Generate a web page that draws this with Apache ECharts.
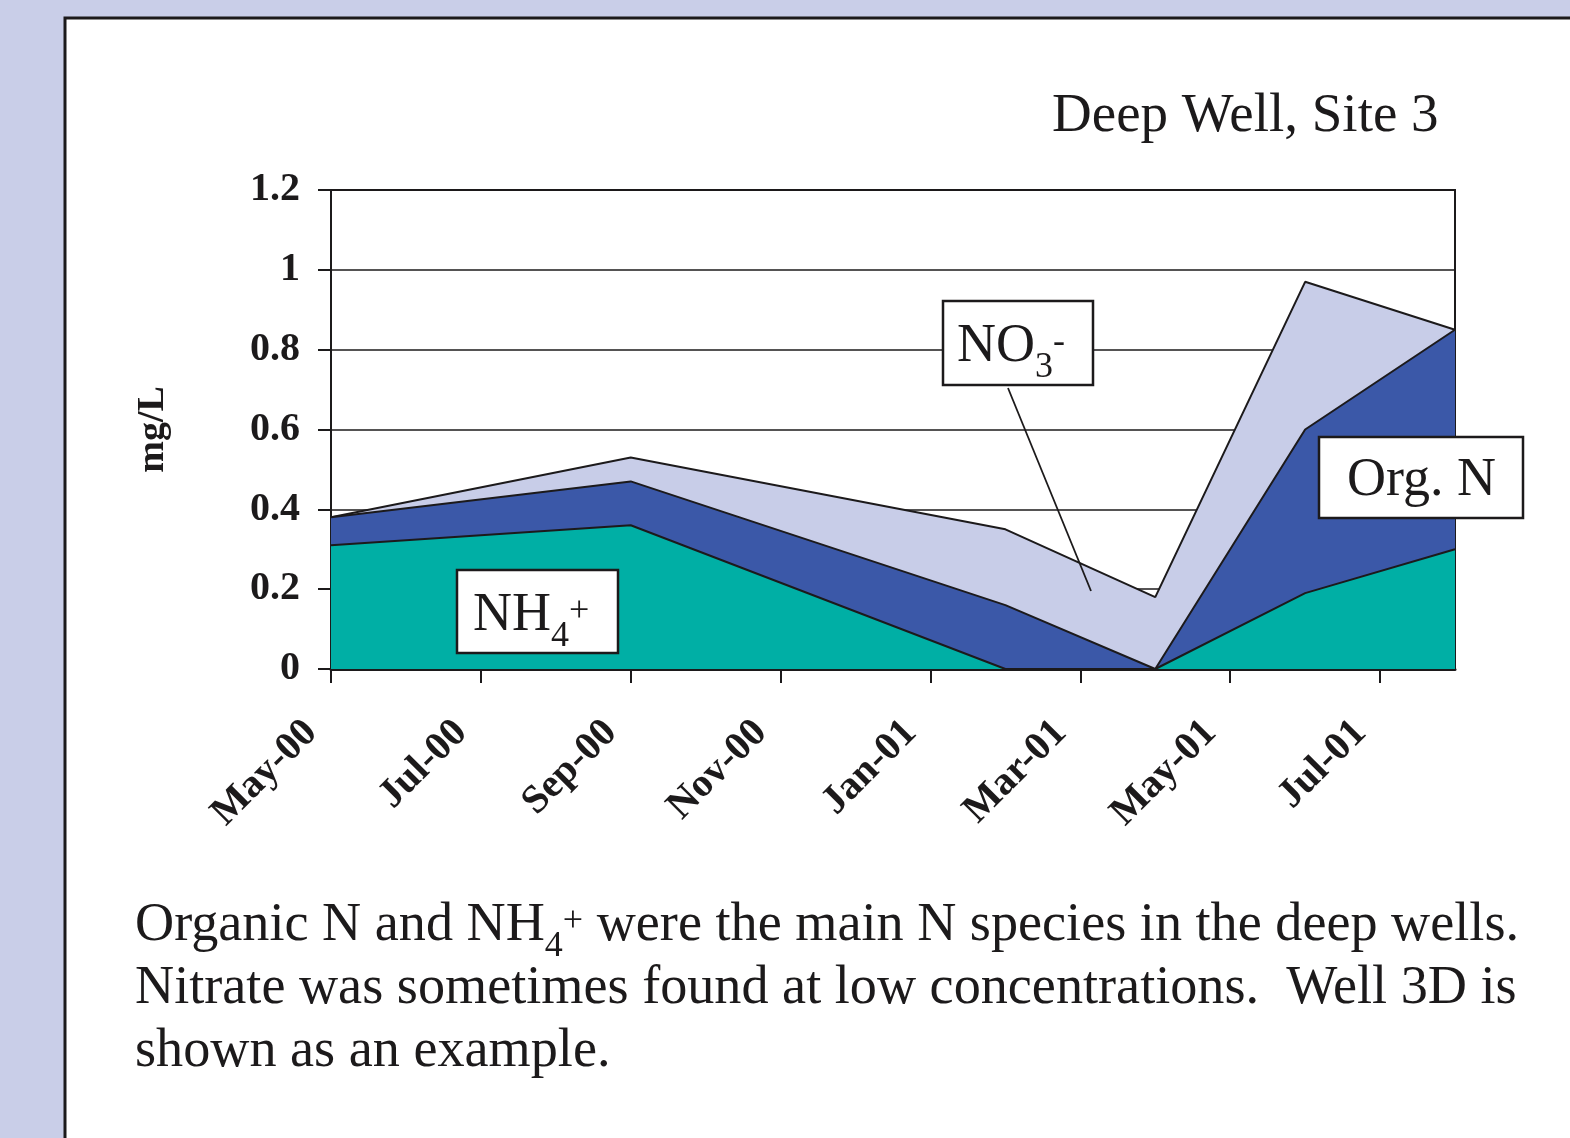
<!DOCTYPE html>
<html><head><meta charset="utf-8">
<script src="https://cdn.jsdelivr.net/npm/echarts@6/dist/echarts.min.js"></script>
<style>html,body{margin:0;padding:0;background:#C9CEE8;} #c{width:1570px;height:1138px;}</style>
</head><body><div id="c"></div>
<script>
// ---- data ----
const sampleMonths = ['2000-05', '2000-09', '2001-02', '2001-04', '2001-06', '2001-08'];
const nh4  = [0.31, 0.36, 0.00, 0.00, 0.19, 0.30];
const orgN = [0.07, 0.11, 0.16, 0.00, 0.41, 0.55];
const no3  = [0.00, 0.06, 0.19, 0.18, 0.37, 0.00];
const tickLabels = ['May-00', 'Jul-00', 'Sep-00', 'Nov-00', 'Jan-01', 'Mar-01', 'May-01', 'Jul-01'];
const axisStart = '2000-05';
const axisEnd = '2001-08';
const yTicks = [0, 0.2, 0.4, 0.6, 0.8, 1, 1.2];

// ---- helpers ----
const MONTHS = ['Jan','Feb','Mar','Apr','May','Jun','Jul','Aug','Sep','Oct','Nov','Dec'];
function monthIndex(s) {
  const [y, m] = s.split('-').map(Number);
  const [y0, m0] = axisStart.split('-').map(Number);
  return (y - y0) * 12 + (m - m0);
}
function labelToMonth(l) {
  return '20' + l.slice(4) + '-' + String(MONTHS.indexOf(l.slice(0, 3)) + 1).padStart(2, '0');
}
const xs = sampleMonths.map(monthIndex);
const lvlNh4 = nh4.map((v, i) => [xs[i], +v.toFixed(3)]);
const lvlOrg = nh4.map((v, i) => [xs[i], +(v + orgN[i]).toFixed(3)]);
const lvlAll = nh4.map((v, i) => [xs[i], +(v + orgN[i] + no3[i]).toFixed(3)]);
const tickPos = tickLabels.map(l => monthIndex(labelToMonth(l)));

const FONT = "'Liberation Serif', 'Times New Roman', serif";
const INK = '#1c1a1b';

const chart = echarts.init(document.getElementById('c'), null, {renderer: 'canvas'});

function areaSeries(name, data, color, z) {
  return {
    name, type: 'line', data, z,
    symbol: 'none', showSymbol: false, smooth: false,
    lineStyle: {color: INK, width: 2},
    areaStyle: {color, opacity: 1},
    emphasis: {disabled: true},
    silent: true
  };
}

const chemRich = {
  b:   {fontSize: 54, fontFamily: FONT, lineHeight: 64, color: INK},
  sub: {fontSize: 36, fontFamily: FONT, lineHeight: 64, color: INK, padding: [41, 0, 0, 0]},
  sup: {fontSize: 36, fontFamily: FONT, lineHeight: 64, color: INK, padding: [0, 0, 8, 0]}
};

function txt(text, x, y, size) {
  const rich = JSON.parse(JSON.stringify(chemRich));
  if (size) rich.b.fontSize = size;
  return {
    type: 'text', x, y, z: 50,
    style: {
      text, fontSize: size || 54, fontFamily: FONT, fill: INK,
      align: 'left', verticalAlign: 'middle', rich
    }
  };
}
function box(x, y, w, h) {
  return {type: 'rect', z: 40, shape: {x, y, width: w, height: h},
          style: {fill: '#ffffff', stroke: INK, lineWidth: 2.5}};
}

const option = {
  animation: false,
  backgroundColor: '#C9CEE8',
  grid: {left: 331, top: 190, width: 1124, height: 479, show: true,
         borderColor: INK, borderWidth: 2, backgroundColor: 'transparent'},
  xAxis: {
    type: 'value', min: monthIndex(axisStart), max: monthIndex(axisEnd), interval: 2,
    axisLine: {show: true, onZero: false, lineStyle: {color: INK, width: 3}},
    axisTick: {show: true, length: 14, lineStyle: {color: INK, width: 2}, customValues: tickPos},
    axisLabel: {
      customValues: tickPos,
      rotate: 45, margin: 38, padding: [0, 28, 0, 0],
      fontFamily: FONT, fontWeight: 'bold', fontSize: 40, color: INK,
      formatter: v => tickLabels[tickPos.indexOf(v)] || ''
    },
    splitLine: {show: false}
  },
  yAxis: {
    type: 'value', min: yTicks[0], max: yTicks[yTicks.length - 1], interval: yTicks[1] - yTicks[0],
    name: 'mg/L', nameLocation: 'middle', nameGap: 159, nameRotate: 90,
    nameTextStyle: {fontFamily: FONT, fontWeight: 'bold', fontSize: 38, color: INK},
    axisLine: {show: true, lineStyle: {color: INK, width: 2}},
    axisTick: {show: true, length: 13, lineStyle: {color: INK, width: 2}},
    axisLabel: {margin: 31, fontFamily: FONT, fontWeight: 'bold', fontSize: 40, color: INK,
                formatter: v => String(+v.toFixed(1))},
    splitLine: {show: true, lineStyle: {color: INK, width: 1.5}}
  },
  series: [
    areaSeries('NO3-', lvlAll, '#C8CDE8', 3),
    areaSeries('Org. N', lvlOrg, '#3B58A8', 4),
    areaSeries('NH4+', lvlNh4, '#00AFA5', 5)
  ],
  graphic: [
    {type: 'rect', z: -100, shape: {x: 65, y: 18, width: 1700, height: 1300},
     style: {fill: '#ffffff', stroke: INK, lineWidth: 3}},
    txt('Deep Well, Site 3', 1052, 117, 55),
    // NH4+ box
    box(457, 570, 161, 83),
    txt('{b|NH}{sub|4}{sup|+}', 473, 616),
    // NO3- box + leader
    {type: 'line', z: 45, shape: {x1: 1008, y1: 388, x2: 1091, y2: 591},
     style: {stroke: INK, lineWidth: 1.8}},
    box(943, 301, 150, 84),
    txt('{b|NO}{sub|3}{sup|-}', 957, 347),
    // Org. N box
    box(1319, 437, 204, 81),
    txt('Org. N', 1347, 481),
    // caption
    txt('{b|Organic N and NH}{sub|4}{sup|+}{b| were the main N species in the deep wells.}', 135, 926, 54.2),
    txt('Nitrate was sometimes found at low concentrations.  Well 3D is', 135, 989, 54.2),
    txt('shown as an example.', 135, 1052, 54.2)
  ]
};
chart.setOption(option);
</script>
</body></html>
